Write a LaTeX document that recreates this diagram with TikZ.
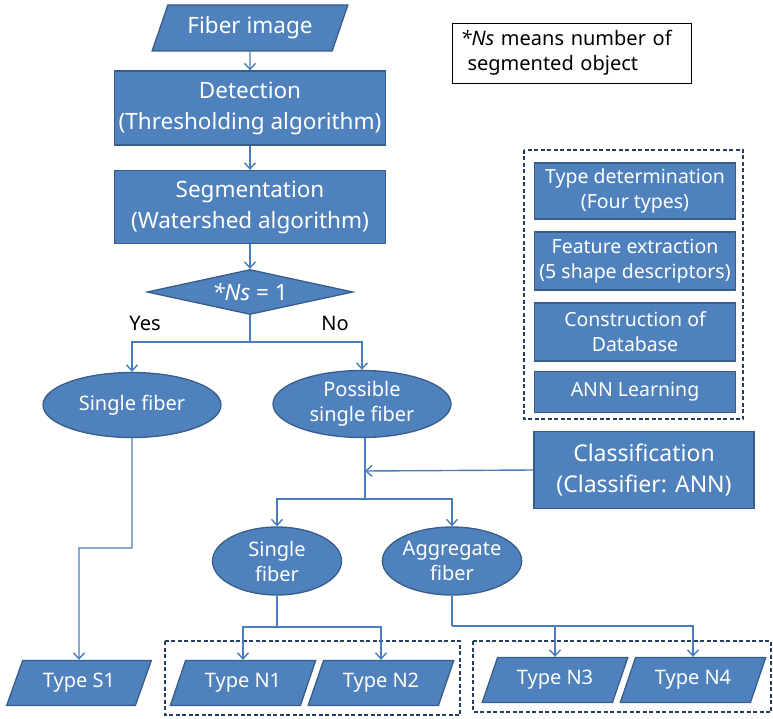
\documentclass[tikz,border=0pt]{standalone}
\usepackage{fontspec}
\setmainfont{Noto Sans}
\usepackage{tikz}
\usetikzlibrary{shapes.geometric,arrows.meta}
\definecolor{boxblue}{HTML}{4F81BD}
\definecolor{boxedge}{HTML}{385D8A}
\definecolor{linkblue}{HTML}{4A7EBB}
\definecolor{framenavy}{HTML}{243F60}
\begin{document}
\begin{tikzpicture}[x=1pt,y=-1pt,
    blockbox/.style={rectangle,fill=boxblue,draw=boxedge,line width=1.3pt,text=white,
        align=center,inner sep=0pt,font=\fontsize{22.5}{31}\selectfont},
    smallbox/.style={blockbox,minimum width=201pt,font=\fontsize{19.5}{25}\selectfont},
    oval/.style={ellipse,fill=boxblue,draw=boxedge,line width=1.3pt,text=white,
        align=center,inner sep=0pt,font=\fontsize{20}{25}\selectfont},
    iobox/.style={trapezium,trapezium left angle=62,trapezium right angle=118,
        trapezium stretches=true,fill=boxblue,draw=boxedge,line width=1.3pt,text=white,
        inner sep=0pt,minimum width=146pt,minimum height=45pt,font=\fontsize{20}{24}\selectfont},
    link/.style={draw=linkblue,line width=1.4pt},
    arr/.style={link,-{Straight Barb[length=6pt,width=11pt]}},
    frame/.style={draw=framenavy,line width=1.1pt,dash pattern=on 4pt off 2.5pt},
    lbl/.style={font=\fontsize{20}{24}\selectfont,text=black}]
\useasboundingbox (0,0) rectangle (773,719);

\node [iobox,minimum width=196pt,minimum height=46pt,font=\fontsize{22.5}{26}\selectfont] (fiber) at (250,28) {Fiber image};
\node [blockbox,minimum width=271pt,minimum height=74pt] (detect) at (250,108) {Detection\\(Thresholding algorithm)};
\node [blockbox,minimum width=271pt,minimum height=73pt] (segment) at (250,207) {Segmentation\\(Watershed algorithm)};
\node [diamond,aspect=4.6,fill=boxblue,draw=boxedge,line width=1.3pt,text=white,inner sep=0pt,
    minimum width=206pt,minimum height=45pt,font=\fontsize{22.5}{26}\selectfont] (count) at (250,292) {\textit{*Ns} = 1};
\node [lbl] (yes) at (145,323) {Yes};
\node [lbl] (no) at (335,323) {No};
\coordinate (split) at (250,342);

\node [oval,minimum width=178pt,minimum height=65pt] (single) at (132,405) {Single fiber};
\node [oval,minimum width=178pt,minimum height=67pt] (possible) at (362,404) {Possible\\single fiber};

\node [draw=black,line width=0.8pt,minimum height=60pt,text width=223pt,inner xsep=8pt,align=left,
    font=\fontsize{20}{25}\selectfont] (note) at (572,53) {\textit{*Ns} means number of\\\hspace{0.35em}segmented object};

\draw [frame] (524,150) rectangle (743,419);
\node [smallbox,minimum height=56pt] (typedet) at (635,191) {Type determination\\(Four types)};
\node [smallbox,minimum height=58pt] (feature) at (635,261) {Feature extraction\\(5 shape descriptors)};
\node [smallbox,minimum height=58pt] (database) at (635,332) {Construction of\\Database};
\node [smallbox,minimum height=41pt] (learning) at (635,392) {ANN Learning};

\node [blockbox,minimum width=220pt,minimum height=77pt,font=\fontsize{23}{31}\selectfont] (classify) at (644,470) {Classification\\(Classifier: ANN)};
\coordinate (merge) at (365,471);
\coordinate (split2) at (365,499);

\node [oval,minimum width=129pt,minimum height=68pt] (single2) at (277,561) {Single\\fiber};
\node [oval,minimum width=127pt,minimum height=68pt] (aggregate) at (452,561) {Aggregate\\fiber};

\draw [frame] (165,641) rectangle (460,715);
\draw [frame] (473,641) rectangle (771,712);
\node [iobox] (s1) at (79,683) {Type S1};
\node [iobox] (n1) at (243,683) {Type N1};
\node [iobox] (n2) at (381,683) {Type N2};
\node [iobox] (n3) at (555,680) {Type N3};
\node [iobox] (n4) at (693,680) {Type N4};

\draw [arr] (fiber) -- (detect);
\draw [arr] (detect) -- (segment);
\draw [arr] (segment) -- (count);
\draw [link] (count.south) -- (split);
\draw [arr] (split) -| (single.north);
\draw [arr] (split) -| (possible.north);
\draw [link] (possible.south -| merge) -- (split2);
\draw [arr] (classify.west) -- (merge);
\draw [arr] (split2) -| (single2.north);
\draw [arr] (split2) -| (aggregate.north);
\draw [arr] (single.south) |- (79,548) -- (s1.north);
\draw [link] (single2.south) -- (277,627);
\draw [arr] (277,627) -| (n1.north);
\draw [arr] (277,627) -| (n2.north);
\draw [link] (aggregate.south) -- (452,626);
\draw [arr] (452,626) -| (n3.north);
\draw [arr] (452,626) -| (n4.north);
\end{tikzpicture}
\end{document}
